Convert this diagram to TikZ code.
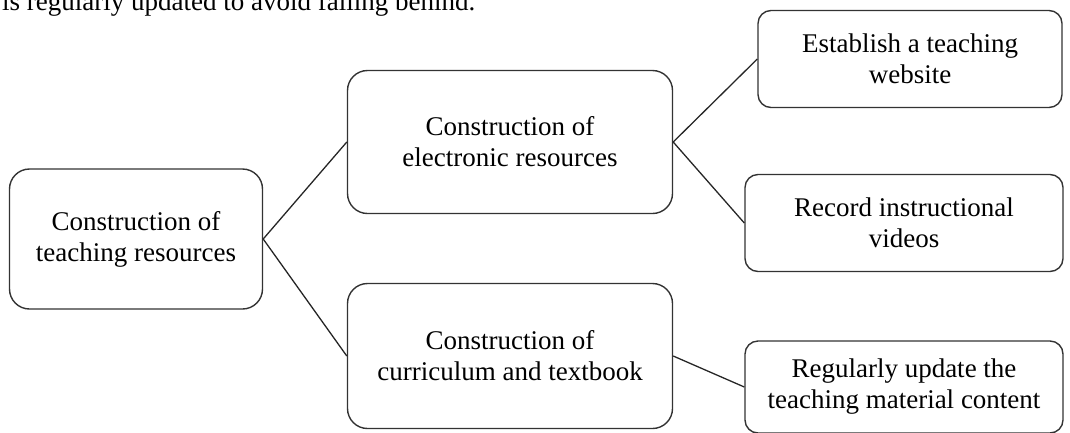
\documentclass[tikz,border=0pt]{standalone}
\usepackage{fontspec}
\setmainfont{Liberation Serif}
\usepackage{tikz}

\begin{document}
\begin{tikzpicture}[x=1pt,y=1pt,
    bigbox/.style={draw=black!80,line width=1.4pt,rounded corners=20pt,align=center,
      font=\fontsize{27}{31}\selectfont},
    smallbox/.style={draw=black!80,line width=1.4pt,rounded corners=13pt,align=center,
      font=\fontsize{27}{31}\selectfont},
    link/.style={black!85,line width=1.3pt}]
      \useasboundingbox (0,0) rectangle (1070,-432);
      % text of the page above the figure
      \node[anchor=base west,inner sep=0pt,font=\fontsize{27}{31}\selectfont] (above) at (2,-10) {is regularly updated to avoid falling behind.};
      \node[bigbox,minimum width=253pt,minimum height=140pt] (res) at (136,-239) {Construction of\\teaching resources};
      \node[bigbox,minimum width=325pt,minimum height=143pt] (elec) at (510,-142) {Construction of\\electronic resources};
      \node[bigbox,minimum width=325pt,minimum height=145pt] (curr) at (510,-356) {Construction of\\curriculum and textbook};
      \node[smallbox,minimum width=304pt,minimum height=97pt] (web) at (910,-59) {Establish a teaching\\website};
      \node[smallbox,minimum width=318pt,minimum height=97pt] (video) at (904,-223) {Record instructional\\videos};
      \node[smallbox,minimum width=318pt,minimum height=92pt] (update) at (904,-387) {Regularly update the\\teaching material content};
      \draw[link] (res.east) -- (elec.west);
      \draw[link] (res.east) -- (curr.west);
      \draw[link] (elec.east) -- (web.west);
      \draw[link] (elec.east) -- (video.west);
      \draw[link] (curr.east) -- (update.west);
\end{tikzpicture}
\end{document}
